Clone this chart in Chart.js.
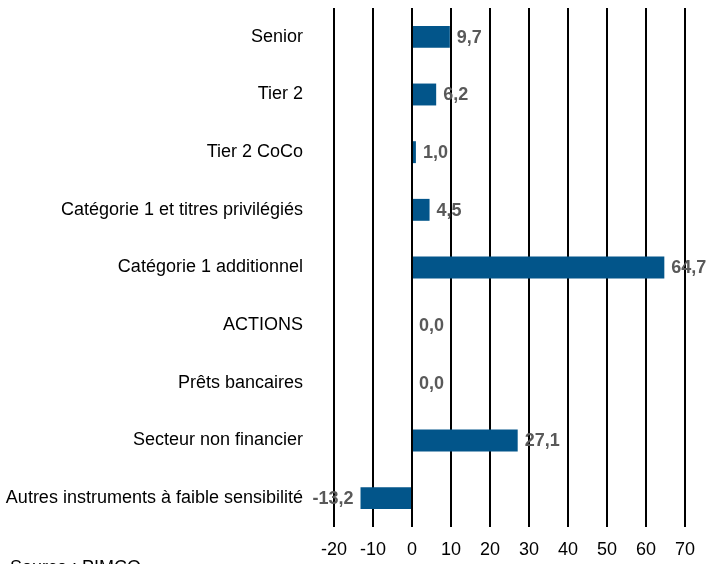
<!DOCTYPE html>
<html>
<head>
<meta charset="utf-8">
<script src="https://cdn.jsdelivr.net/npm/chart.js@4/dist/chart.umd.min.js"></script>
<style>
  html, body { margin: 0; padding: 0; background: #fff; overflow: hidden; }
  #wrap { position: relative; width: 723px; height: 564px; }
  canvas { display: block; }
  #source { position: absolute; left: 10px; top: 557px; font: 18px "Liberation Sans", Arial, sans-serif; color: #000; white-space: nowrap; }
</style>
</head>
<body>
<div id="wrap">
  <canvas id="chart" width="723" height="564"></canvas>
  <div id="source">Source : PIMCO</div>
</div>
<script>
const categories = [
    'Senior',
    'Tier 2',
    'Tier 2 CoCo',
    'Catégorie 1 et titres privilégiés',
    'Catégorie 1 additionnel',
    'ACTIONS',
    'Prêts bancaires',
    'Secteur non financier',
    'Autres instruments à faible sensibilité'
];
const values = [9.7, 6.2, 1.0, 4.5, 64.7, 0.0, 0.0, 27.1, -13.2];
const xTicks = [-20, -10, 0, 10, 20, 30, 40, 50, 60, 70];

const FONT = '"Liberation Sans Narrow", "Liberation Sans", Arial, sans-serif';

// draws the value next to each bar, e.g. "9,7"
const valueLabels = {
    id: 'valueLabels',
    afterDatasetsDraw(chart) {
        const ctx = chart.ctx;
        const meta = chart.getDatasetMeta(0);
        ctx.save();
        ctx.font = 'bold 18px ' + FONT;
        ctx.fillStyle = '#595959';
        ctx.textBaseline = 'middle';
        meta.data.forEach((bar, i) => {
            const v = values[i];
            const txt = v.toFixed(1).replace('.', ',');
            if (v < 0) {
                ctx.textAlign = 'right';
                ctx.fillText(txt, bar.x - 7, bar.y + 1);
            } else {
                ctx.textAlign = 'left';
                ctx.fillText(txt, bar.x + 7, bar.y + 1);
            }
        });
        ctx.restore();
    }
};

new Chart(document.getElementById('chart'), {
    type: 'bar',
    data: {
        labels: categories,
        datasets: [{
            data: values,
            backgroundColor: '#02558a',
            borderWidth: 0,
            barPercentage: 0.38,
            categoryPercentage: 1.0
        }]
    },
    options: {
        indexAxis: 'y',
        responsive: false,
        animation: false,
        layout: { padding: { top: 8, right: 38, bottom: 6, left: 0 } },
        plugins: {
            legend: { display: false },
            tooltip: { enabled: false }
        },
        scales: {
            x: {
                min: -20,
                max: 70,
                afterBuildTicks: (scale) => {
                    scale.ticks = xTicks.map(v => ({ value: v }));
                },
                afterFit: (scale) => { scale.height = 31; },
                grid: { color: '#000', lineWidth: 2, drawTicks: false },
                border: { display: false },
                ticks: {
                    padding: 12,
                    maxRotation: 0,
                    autoSkip: false,
                    color: '#000',
                    font: { family: FONT, size: 18 }
                }
            },
            y: {
                afterFit: (scale) => {
                    scale.width = 334;
                    scale.paddingTop = 0;
                    scale.paddingBottom = 0;
                },
                grid: { display: false, drawTicks: false },
                border: { display: false },
                ticks: {
                    padding: 31,
                    color: '#000',
                    font: { family: FONT, size: 18 }
                }
            }
        }
    },
    plugins: [valueLabels]
});
</script>
</body>
</html>
